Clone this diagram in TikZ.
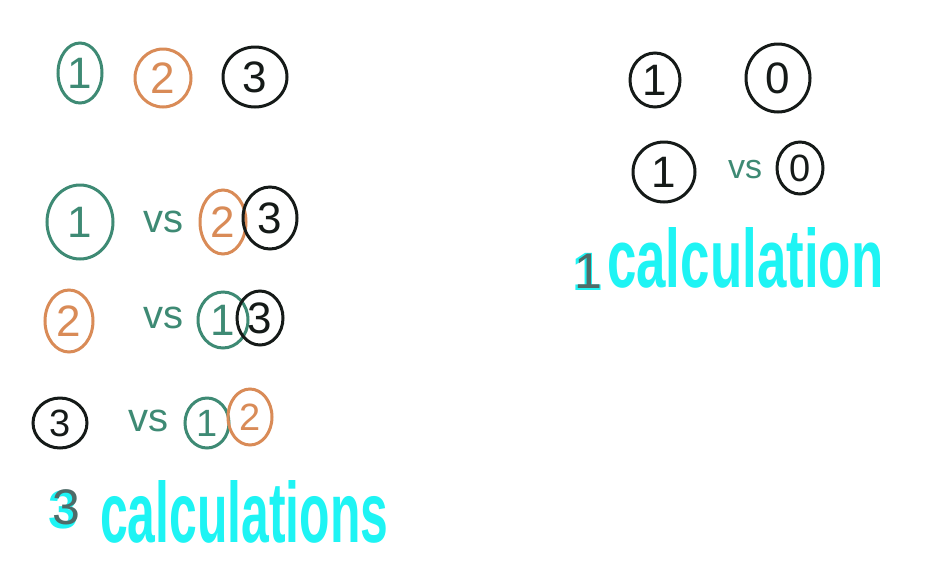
\documentclass[tikz,border=0pt]{standalone}
\usepackage{fontspec}
\usepackage{graphicx}
\setmainfont{Liberation Sans}
\usetikzlibrary{shapes.geometric}
\definecolor{pgreen}{HTML}{3E8A74}
\definecolor{porange}{HTML}{D98B57}
\definecolor{pblack}{HTML}{151A18}
\definecolor{pcyan}{HTML}{1EF4F4}
\definecolor{pgrey}{HTML}{4E6B68}
\tikzset{
  ring/.style={draw, ellipse, line width=3pt, inner sep=0pt, font=\fontsize{44}{44}\selectfont},
  smallring/.style={ring, font=\fontsize{38}{38}\selectfont},
  vslabel/.style={text=pgreen, font=\fontsize{40}{40}\selectfont, inner sep=0pt},
  calclabel/.style={text=pcyan, inner sep=0pt, anchor=base west},
}
\begin{document}
\begin{tikzpicture}[x=1pt,y=-1pt]
\useasboundingbox[fill=white] (0,0) rectangle (947,566);
% top row
\node[ring, pgreen, minimum width=44pt, minimum height=60pt] (a1) at (80,73) {1};
\node[ring, porange, minimum width=56pt, minimum height=58pt] (a2) at (163,78) {2};
\node[ring, pblack, minimum width=64pt, minimum height=60pt] (a3) at (255,77) {3};
% row 2
\node[ring, pgreen, minimum width=66pt, minimum height=74pt] (b1) at (80,222) {1};
\node[vslabel] (bvs) at (163,222) {vs};
\node[ring, porange, minimum width=46pt, minimum height=64pt] (b2) at (223,222) {2};
\node[ring, pblack, minimum width=54pt, minimum height=62pt] (b3) at (270,218) {3};
% row 3
\node[ring, porange, minimum width=48pt, minimum height=62pt] (c2) at (69,321) {2};
\node[vslabel] (cvs) at (163,318) {vs};
\node[ring, pgreen, minimum width=50pt, minimum height=56pt] (c1) at (223,320) {1};
\node[ring, pblack, minimum width=46pt, minimum height=54pt] (c3) at (260,318) {3};
% row 4
\node[smallring, pblack, minimum width=54pt, minimum height=50pt] (d3) at (60,423) {3};
\node[vslabel] (dvs) at (148,421) {vs};
\node[smallring, pgreen, minimum width=44pt, minimum height=50pt] (d1) at (207,423) {1};
\node[smallring, porange, minimum width=44pt, minimum height=56pt] (d2) at (250,417) {2};
% 3 calculations
\node[calclabel, text=pcyan, font=\bfseries\fontsize{54}{54}\selectfont] (n3c) at (48,528) {3};
\node[calclabel, text=pgrey, font=\fontsize{50}{50}\selectfont] (n3) at (52,524) {3};
\node[calclabel] (calc3) at (100,542) {\resizebox{288pt}{62pt}{\bfseries calculations}};
% right side
\node[ring, pblack, minimum width=50pt, minimum height=54pt] (e1) at (655,80) {1};
\node[ring, pblack, minimum width=64pt, minimum height=68pt] (e0) at (778,78) {0};
\node[ring, pblack, minimum width=62pt, minimum height=60pt] (f1) at (664,172) {1};
\node[vslabel, font=\fontsize{34}{34}\selectfont] (fvs) at (745,170) {vs};
\node[smallring, pblack, minimum width=46pt, minimum height=52pt] (f0) at (800,168) {0};
% 1 calculation
\node[calclabel, text=pcyan, font=\bfseries\fontsize{54}{54}\selectfont] (n1c) at (572,290) {1};
\node[calclabel, text=pgrey, font=\fontsize{50}{50}\selectfont] (n1) at (574,288) {1};
\node[calclabel] (calc1) at (607,287) {\resizebox{276pt}{60pt}{\bfseries calculation}};
\end{tikzpicture}
\end{document}
